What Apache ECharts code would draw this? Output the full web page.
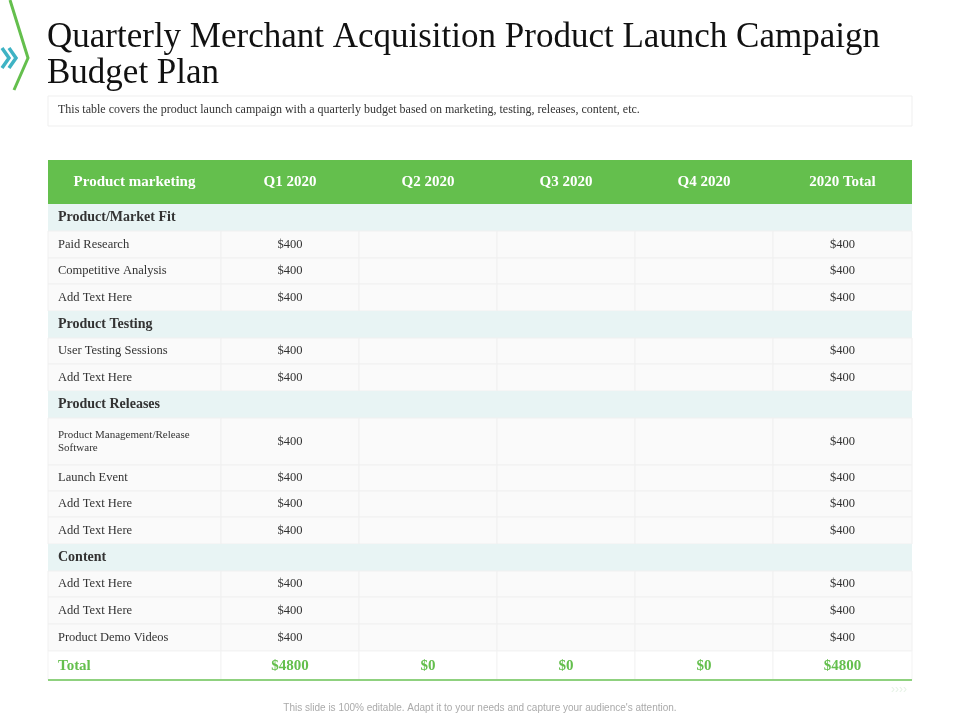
<!DOCTYPE html>
<html lang="en">
<head>
    <meta charset="UTF-8">
    <script src="https://cdn.jsdelivr.net/npm/echarts@6/dist/echarts.min.js"></script>
    <title>Quarterly Merchant Acquisition Product Launch Campaign Budget Plan</title>
    <style>
        body { margin: 0; background: #ffffff; }
        #chart { width: 960px; height: 720px; }
    </style>
</head>
<body>
    <div id="chart"></div>
    <script>
        var chart = echarts.init(document.getElementById('chart'));

        var headers = ['Product marketing', 'Q1 2020', 'Q2 2020', 'Q3 2020', 'Q4 2020', '2020 Total'];
        // section headers are marked with type 's'
        var rowLabels = ['Product/Market Fit', 'Paid Research', 'Competitive Analysis', 'Add Text Here',
            'Product Testing', 'User Testing Sessions', 'Add Text Here',
            'Product Releases', 'Product Management/Release\nSoftware', 'Launch Event', 'Add Text Here', 'Add Text Here',
            'Content', 'Add Text Here', 'Add Text Here', 'Product Demo Videos'];
        var rowTypes = ['s', 'r', 'r', 'r', 's', 'r', 'r', 's', 'r', 'r', 'r', 'r', 's', 'r', 'r', 'r'];
        var q1 = [null, 400, 400, 400, null, 400, 400, null, 400, 400, 400, 400, null, 400, 400, 400];
        var q2 = [null, null, null, null, null, null, null, null, null, null, null, null, null, null, null, null];
        var q3 = [null, null, null, null, null, null, null, null, null, null, null, null, null, null, null, null];
        var q4 = [null, null, null, null, null, null, null, null, null, null, null, null, null, null, null, null];
        var totals = [null, 400, 400, 400, null, 400, 400, null, 400, 400, 400, 400, null, 400, 400, 400];
        var totalRow = ['Total', 4800, 0, 0, 0, 4800];

        var colX = [48, 221, 359, 497, 635, 773, 912];
        var rowH = [27, 27, 26, 27, 27, 26, 27, 27, 47, 26, 26, 27, 27, 26, 27, 27];
        var serif = '"Liberation Serif", "DejaVu Serif", serif';
        var green = '#64bf4d';

        function money(v) { return v === null ? '' : '$' + v; }

        var g = [];
        // left chevrons
        g.push({ type: 'polyline', shape: { points: [[10, 0], [28, 58], [14, 90]] }, style: { stroke: green, lineWidth: 3, fill: null } });
        [0, 7].forEach(function (dx) {
            g.push({ type: 'polyline', shape: { points: [[2 + dx, 48], [9 + dx, 58], [2 + dx, 68]] }, style: { stroke: '#3fb3c4', lineWidth: 3.5, fill: null } });
        });
        g.push({ type: 'text', x: 47, y: 20, style: { text: 'Quarterly Merchant Acquisition Product Launch Campaign\nBudget Plan', font: '35px ' + serif, fill: '#111', lineHeight: 36 } });
        g.push({ type: 'rect', shape: { x: 48, y: 96, width: 864, height: 30 }, style: { fill: '#fff', stroke: '#efefef', lineWidth: 1 } });
        g.push({ type: 'text', x: 58, y: 104, style: { text: 'This table covers the product launch campaign with a quarterly budget based on marketing, testing, releases, content, etc.', font: '12px ' + serif, fill: '#333' } });

        // header
        g.push({ type: 'rect', shape: { x: 48, y: 160, width: 864, height: 44 }, style: { fill: green } });
        headers.forEach(function (h, i) {
            g.push({ type: 'text', x: (colX[i] + colX[i + 1]) / 2, y: 182, style: { text: h, font: 'bold 15px ' + serif, fill: '#fff', align: 'center', verticalAlign: 'middle' } });
        });

        var y = 204;
        var cols = [q1, q2, q3, q4, totals];
        rowLabels.forEach(function (lab, r) {
            var h = rowH[r];
            if (rowTypes[r] === 's') {
                g.push({ type: 'rect', shape: { x: 48, y: y, width: 864, height: h }, style: { fill: '#e8f4f4' } });
                g.push({ type: 'text', x: 58, y: y + h / 2, style: { text: lab, font: 'bold 14px ' + serif, fill: '#333', verticalAlign: 'middle' } });
            } else {
                for (var c = 0; c < 6; c++) {
                    g.push({ type: 'rect', shape: { x: colX[c], y: y, width: colX[c + 1] - colX[c], height: h }, style: { fill: '#fafafa', stroke: '#f0f0f0', lineWidth: 1 } });
                }
                var two = lab.indexOf('\n') >= 0;
                g.push({ type: 'text', x: 58, y: y + h / 2, style: { text: lab, font: (two ? '11px ' : '12.5px ') + serif, fill: '#333', verticalAlign: 'middle', lineHeight: 13 } });
                cols.forEach(function (arr, c) {
                    g.push({ type: 'text', x: (colX[c + 1] + colX[c + 2]) / 2, y: y + h / 2, style: { text: money(arr[r]), font: '12.5px ' + serif, fill: '#333', align: 'center', verticalAlign: 'middle' } });
                });
            }
            y += h;
        });
        // total row
        for (var c = 0; c < 6; c++) {
            g.push({ type: 'rect', shape: { x: colX[c], y: y, width: colX[c + 1] - colX[c], height: 29 }, style: { fill: '#ffffff', stroke: '#f3f3f3', lineWidth: 1 } });
        }
        totalRow.forEach(function (v, c) {
            var isLabel = c === 0;
            g.push({ type: 'text', x: isLabel ? 58 : (colX[c] + colX[c + 1]) / 2, y: y + 15, style: { text: isLabel ? v : money(v), font: 'bold 15px ' + serif, fill: green, align: isLabel ? 'left' : 'center', verticalAlign: 'middle' } });
        });
        g.push({ type: 'line', shape: { x1: 48, y1: y + 29, x2: 912, y2: y + 29 }, style: { stroke: '#8fd17f', lineWidth: 2 } });
        g.push({ type: 'text', x: 899, y: 690, style: { text: '››››', font: '12px sans-serif', fill: '#e6f2e6', align: 'center', verticalAlign: 'middle' } });
        g.push({ type: 'text', x: 480, y: 708, style: { text: 'This slide is 100% editable. Adapt it to your needs and capture your audience\'s attention.', font: '10px "Liberation Sans", Arial, sans-serif', fill: '#aaa', align: 'center', verticalAlign: 'middle' } });

        chart.setOption({ backgroundColor: '#ffffff', graphic: { elements: g } });
    </script>
</body>
</html>
